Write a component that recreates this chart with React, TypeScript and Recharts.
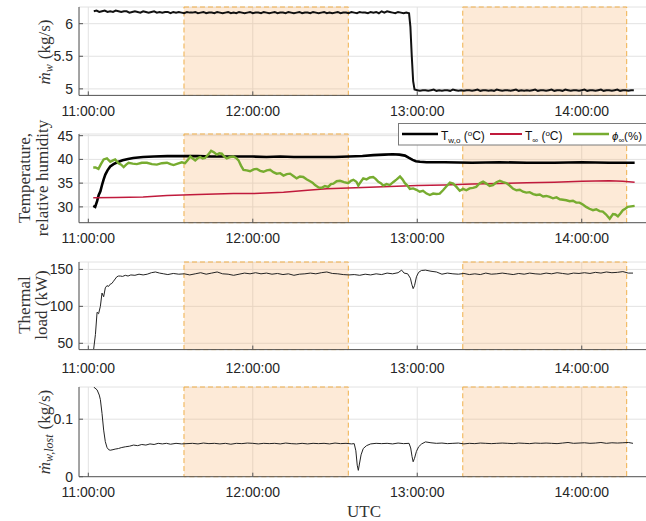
import React from 'react';
import { LineChart, Line, XAxis, YAxis, CartesianGrid, ReferenceArea } from 'recharts';

// ---- shared axis data (minutes after 11:00:00 UTC) ----
const xDomain: [number, number] = [-3.39, 203.8];
const xTicks = [0, 60, 120, 180];
const xTickLabels = ['11:00:00', '12:00:00', '13:00:00', '14:00:00'];
const shadedStart = [34.9, 136.6];
const shadedEnd = [94.85, 196.4];

// ---- panel 1: water mass flow (kg/s) ----
const flowTime = [
  2, 3, 4, 5, 6, 7, 8, 9, 10, 11,
  12, 13, 14, 15, 16, 17, 18, 19, 20, 21,
  22, 23, 24, 25, 26, 27, 28, 29, 30, 31,
  32, 33, 34, 35, 36, 37, 38, 39, 40, 41,
  42, 43, 44, 45, 46, 47, 48, 49, 50, 51,
  52, 53, 54, 55, 56, 57, 58, 59, 60, 61,
  62, 63, 64, 65, 66, 67, 68, 69, 70, 71,
  72, 73, 74, 75, 76, 77, 78, 79, 80, 81,
  82, 83, 84, 85, 86, 87, 88, 89, 90, 91,
  92, 93, 94, 95, 96, 97, 98, 99, 100, 101,
  102, 103, 104, 105, 106, 107, 108, 109, 110, 111,
  112, 113, 114, 115, 116, 117,
  117.5, 118, 118.5, 119,
  120, 121, 122, 123, 124, 125, 126, 127, 128, 129,
  130, 131, 132, 133, 134, 135, 136, 137, 138, 139,
  140, 141, 142, 143, 144, 145, 146, 147, 148, 149,
  150, 151, 152, 153, 154, 155, 156, 157, 158, 159,
  160, 161, 162, 163, 164, 165, 166, 167, 168, 169,
  170, 171, 172, 173, 174, 175, 176, 177, 178, 179,
  180, 181, 182, 183, 184, 185, 186, 187, 188, 189,
  190, 191, 192, 193, 194, 195, 196, 197, 198, 199,
];
const flowValues = [
  6.19, 6.20, 6.18, 6.19, 6.20, 6.18, 6.19, 6.18, 6.20, 6.19,
  6.18, 6.19, 6.19, 6.17, 6.18, 6.19, 6.18, 6.17, 6.19, 6.18,
  6.17, 6.18, 6.19, 6.17, 6.18, 6.17, 6.18, 6.18, 6.16, 6.18,
  6.17, 6.18, 6.17, 6.16, 6.18, 6.17, 6.17, 6.18, 6.16, 6.17,
  6.18, 6.16, 6.17, 6.17, 6.16, 6.18, 6.17, 6.16, 6.17, 6.18,
  6.16, 6.17, 6.16, 6.18, 6.17, 6.16, 6.17, 6.18, 6.16, 6.17,
  6.17, 6.16, 6.18, 6.17, 6.16, 6.17, 6.18, 6.16, 6.17, 6.17,
  6.16, 6.18, 6.17, 6.16, 6.17, 6.18, 6.16, 6.17, 6.17, 6.16,
  6.18, 6.17, 6.16, 6.17, 6.18, 6.16, 6.17, 6.16, 6.17, 6.18,
  6.16, 6.17, 6.17, 6.16, 6.18, 6.17, 6.16, 6.18, 6.17, 6.17,
  6.16, 6.18, 6.17, 6.18, 6.16, 6.19, 6.17, 6.19, 6.18, 6.17,
  6.16, 6.18, 6.17, 6.16, 6.17, 6.16,
  5.95, 5.50, 5.12, 4.99,
  4.98, 4.97, 4.98, 4.98, 4.97, 4.98, 4.99, 4.97, 4.98, 4.97,
  4.98, 4.98, 4.97, 4.99, 4.98, 4.97, 4.98, 4.97, 4.98, 4.98,
  4.97, 4.98, 4.99, 4.97, 4.98, 4.98, 4.97, 4.98, 4.97, 4.99,
  4.98, 4.97, 4.98, 4.98, 4.97, 4.98, 4.99, 4.97, 4.98, 4.97,
  4.98, 4.97, 4.98, 4.99, 4.97, 4.98, 4.98, 4.97, 4.98, 4.99,
  4.97, 4.98, 4.98, 4.97, 4.99, 4.98, 4.97, 4.98, 4.98, 4.97,
  4.98, 4.99, 4.97, 4.98, 4.98, 4.97, 4.98, 4.99, 4.97, 4.98,
  4.98, 4.97, 4.98, 4.99, 4.97, 4.98, 4.98, 4.97, 4.98, 4.98,
];

// ---- panel 2: temperatures (°C) and relative humidity (%) ----
const twoTime = [
  1.8, 2.5, 3.2, 3.8, 4.4, 5.0, 5.6, 6.2, 7.0, 8.0,
  9.2, 10.6, 12.5, 14.5, 16.4, 20, 24, 28.8, 35, 40,
  45, 50, 55, 60, 65, 70, 75, 80, 85, 90,
  95, 100, 104, 108, 111, 113.5, 115.5, 117, 118.3, 119.5,
  121, 123.4, 130, 140, 150, 160, 170, 180, 190, 199.3,
];
const twoValues = [
  30.2, 30.0, 31.2, 32.5, 33.3, 34.6, 35.8, 36.8, 37.7, 38.5,
  39.0, 39.4, 39.8, 40.1, 40.3, 40.5, 40.6, 40.7, 40.7, 40.7,
  40.6, 40.6, 40.6, 40.6, 40.5, 40.6, 40.5, 40.5, 40.5, 40.5,
  40.6, 40.7, 40.9, 41.0, 41.1, 41.0, 40.8, 40.3, 39.9, 39.6,
  39.5, 39.4, 39.4, 39.3, 39.4, 39.3, 39.3, 39.4, 39.3, 39.3,
];
const airTime = [
  1.8, 10, 20, 28.7, 40, 52.9, 60, 71.2, 80, 87,
  100, 110, 120, 130, 140, 150, 160, 170, 180, 190, 195, 199.3,
];
const airValues = [
  31.9, 32.0, 32.1, 32.4, 32.6, 32.8, 32.8, 33.1, 33.5, 33.8,
  34.1, 34.3, 34.5, 34.6, 34.8, 34.9, 35.1, 35.2, 35.4, 35.5, 35.4, 35.2,
];
const rhTime = [
  1.8, 2.6, 3.7, 4.6, 5.6, 6.8, 8.0, 9.0, 9.8, 11.0,
  12.0, 12.9, 13.8, 14.7, 16.2, 17.7, 19.5, 21.4, 23.2, 25.0,
  26.8, 28.7, 30.0, 31.1, 32.6, 34.1, 35.3, 36.2, 37.2, 38.1,
  39.0, 40.0, 40.8, 41.7, 42.6, 43.7, 44.8, 45.8, 46.9, 47.8,
  48.7, 49.6, 50.5, 51.7, 52.9, 53.9, 54.8, 55.7, 56.6, 57.8,
  59.0, 60.3, 61.5, 62.7, 63.9, 65.1, 66.3, 67.5, 68.7, 70.0,
  71.2, 72.4, 73.6, 74.8, 76.0, 77.2, 78.4, 79.6, 80.9, 81.8,
  82.7, 84.0, 85.1, 86.3, 87.5, 88.5, 89.4, 90.6, 91.8, 93.3,
  94.8, 95.8, 96.7, 97.8, 98.5, 99.3, 100.3, 101.5, 102.7, 103.9,
  104.8, 105.8, 106.7, 107.6, 108.8, 110.0, 111.2, 112.5, 113.7, 114.6,
  115.5, 116.4, 117.3, 118.5, 119.7, 120.9, 122.1, 123.4, 124.6, 125.8,
  127.0, 128.2, 129.4, 130.6, 131.9, 133.1, 134.3, 135.5, 136.7, 137.9,
  139.1, 140.3, 141.5, 142.8, 144.0, 145.2, 146.4, 147.6, 148.9, 150.1,
  151.3, 152.5, 153.7, 155.0, 156.2, 157.4, 158.6, 159.8, 161.0, 162.3,
  163.5, 164.7, 165.9, 167.1, 168.3, 169.5, 170.8, 172.0, 173.2, 174.4,
  175.6, 176.8, 178.0, 179.2, 180.4, 181.6, 182.8, 184.1, 185.3, 186.5,
  187.7, 188.9, 190.2, 191.4, 192.3, 193.2, 194.1, 195.0, 195.9, 196.8,
  198.0, 199.3,
];
const rhValues = [
  38.3, 38.3, 38.0, 39.0, 40.0, 40.2, 39.5, 39.8, 40.0, 39.2,
  38.9, 38.4, 38.9, 39.3, 39.1, 39.0, 39.3, 39.3, 39.0, 38.9,
  39.2, 39.3, 39.0, 38.8, 39.1, 39.4, 39.2, 39.8, 40.6, 40.2,
  39.8, 40.3, 40.5, 40.2, 40.3, 41.0, 41.8, 41.5, 41.0, 41.3,
  41.2, 40.6, 40.2, 40.5, 40.6, 40.3, 39.8, 38.7, 37.8, 37.7,
  37.5, 37.9, 38.0, 37.6, 37.4, 37.7, 37.8, 37.3, 37.0, 37.1,
  36.6, 36.9, 37.0, 36.5, 36.0, 36.4, 36.3, 35.8, 35.4, 35.1,
  34.6, 34.1, 34.0, 34.4, 34.2, 34.8, 34.9, 35.4, 35.5, 35.2,
  35.0, 35.5, 35.7, 35.3, 34.5, 35.2, 36.0, 35.8, 36.2, 36.3,
  35.9, 35.3, 35.0, 34.5, 34.8, 34.6, 35.2, 35.8, 36.4, 35.8,
  35.0, 34.5, 33.8, 33.9, 33.6, 33.2, 33.4, 32.8, 32.5, 32.8,
  32.7, 32.8, 33.5, 34.3, 35.1, 34.9, 34.2, 33.4, 33.8, 33.5,
  33.9, 34.0, 34.2, 35.0, 35.3, 34.9, 34.4, 34.6, 35.2, 35.5,
  35.2, 35.0, 34.5, 33.8, 33.5, 33.6, 33.2, 33.0, 33.1, 32.7,
  32.5, 32.6, 32.2, 32.3, 32.1, 31.8, 32.0, 31.6, 31.5, 31.4,
  31.2, 31.3, 30.9, 30.9, 30.5, 30.0, 29.6, 29.3, 29.5, 29.1,
  29.0, 28.4, 27.5, 28.5, 28.4, 28.0, 28.6, 29.3, 29.6, 30.0,
  30.1, 30.2,
];

// ---- panel 3: thermal load (kW) ----
const loadTime = [
  1.95, 2.6, 3.2, 3.75, 4.4, 5.0, 5.6, 6.2, 6.8, 7.4,
  8.0, 8.6, 9.2, 9.8, 10.4, 11.0, 11.7, 12.5, 13.5, 14.5,
  15.5, 17, 18.5, 20, 21.5, 23, 24.5, 26, 27.5, 29,
  31, 33, 35, 37, 39, 41, 43, 45, 47, 49,
  51, 53, 55, 57, 59, 61, 63, 65, 67, 69,
  71, 73, 75, 77, 79, 81, 83, 85, 87, 89,
  91, 93, 95, 97, 99, 101, 103, 105, 107, 109,
  111, 113, 114.3, 115.2, 116.5, 117.5, 118, 118.5, 119, 119.7,
  120.5, 121.5, 123, 125, 127, 129, 131, 133, 135, 137,
  139, 141, 143, 145, 147, 149, 151, 153, 155, 157,
  159, 161, 163, 165, 167, 169, 171, 173, 175, 177,
  179, 181, 183, 185, 187, 189, 191, 193, 195, 197, 198.7,
];
const loadValues = [
  42, 62, 92, 90, 100, 118, 113, 125, 128, 127,
  130, 131, 134, 137, 140, 141, 141, 140.5, 142, 141,
  142.5, 142, 143.5, 142.5, 143.5, 145.5, 146.5, 145, 144, 143,
  144.5, 143.5, 144, 142.5, 144, 145.5, 143.5, 145, 146.5, 144,
  143.5, 142, 143.5, 145, 144, 145.5, 144, 145, 143.5, 144.5,
  143, 144, 142, 143.5, 144, 145, 144, 145.5, 146.5, 144.5,
  144, 143, 142.5, 143, 142, 143.5, 142.5, 144, 143, 145,
  144, 145.5, 149, 145, 144, 138, 130, 124, 128, 140,
  146, 148.5, 149, 147.5, 146.5, 143.5, 145, 144, 143.5, 144.5,
  143, 144, 143, 145, 143.5, 144, 145, 144, 143, 144.5,
  143.5, 145, 144, 143.5, 145, 144, 145.5, 144.5, 143.5, 145,
  144.5, 145.5, 144.5, 146, 145, 146.5, 145.5, 146, 147, 145, 145,
];

// ---- panel 4: lost water mass flow (kg/s) ----
const lostTime = [
  1.95, 3.2, 4.0, 4.4, 5.0, 5.6, 6.2, 6.8, 7.4, 8.0,
  9.0, 9.8, 11, 12, 13.5, 15, 16.5, 18, 19.5, 21,
  22.5, 24, 25.5, 27, 28.5, 30, 32, 34, 36, 38,
  40, 42, 44, 46, 48, 50, 52, 54, 56, 58,
  60, 62, 64, 66, 68, 70, 72, 74, 76, 78,
  80, 82, 84, 86, 88, 90, 92, 94, 96, 97.0,
  97.6, 98.1, 98.5, 98.9, 99.5, 100.3, 101.5, 103, 105, 107,
  109, 111, 113, 115, 117.0, 117.6, 118.1, 118.5, 119, 119.7,
  120.5, 121.6, 123, 125, 127, 129, 131, 133, 135, 137,
  139, 141, 143, 145, 147, 149, 151, 153, 155, 157,
  159, 161, 163, 165, 167, 169, 171, 173, 175, 177,
  179, 181, 183, 185, 187, 189, 191, 193, 195, 197, 198.7,
];
const lostValues = [
  0.156, 0.151, 0.142, 0.134, 0.11, 0.081, 0.061, 0.051, 0.047, 0.046,
  0.047, 0.048, 0.049, 0.0505, 0.052, 0.053, 0.055, 0.054, 0.056, 0.055,
  0.057, 0.056, 0.058, 0.057, 0.058, 0.0565, 0.058, 0.057, 0.0575, 0.058,
  0.057, 0.0585, 0.0575, 0.058, 0.057, 0.058, 0.0565, 0.058, 0.0575, 0.0585,
  0.058, 0.057, 0.058, 0.0575, 0.058, 0.057, 0.0585, 0.0575, 0.057, 0.058,
  0.057, 0.058, 0.0575, 0.058, 0.057, 0.0585, 0.0575, 0.058, 0.057, 0.0575,
  0.045, 0.02, 0.011, 0.022, 0.038, 0.049, 0.054, 0.057, 0.058, 0.0575,
  0.058, 0.057, 0.0585, 0.0575, 0.058, 0.05, 0.035, 0.026, 0.032, 0.044,
  0.052, 0.057, 0.0605, 0.059, 0.058, 0.0585, 0.0575, 0.058, 0.0585, 0.057,
  0.058, 0.0575, 0.0585, 0.058, 0.0575, 0.058, 0.0585, 0.058, 0.0575, 0.0585,
  0.058, 0.0575, 0.0585, 0.058, 0.0585, 0.058, 0.0575, 0.0585, 0.0595, 0.058,
  0.0585, 0.059, 0.058, 0.0585, 0.0595, 0.058, 0.059, 0.0585, 0.059, 0.0595, 0.058,
];

const pairs = (ts: number[], vs: number[]) => ts.map((t, i) => ({ t, v: vs[i] }));
const flowData = pairs(flowTime, flowValues);
const twoData = pairs(twoTime, twoValues);
const airData = pairs(airTime, airValues);
const rhData = pairs(rhTime, rhValues);
const loadData = pairs(loadTime, loadValues);
const lostData = pairs(lostTime, lostValues);

const fmtX = (v: number) => {
  const i = xTicks.indexOf(v);
  return i >= 0 ? xTickLabels[i] : '';
};

const FRAME = '#555555';
const TXT = '#262626';
const tickFont = { fill: TXT, fontSize: 14, fontFamily: 'Liberation Sans, Arial, sans-serif' };
const MT = 10;

type PanelProps = {
  top: number;
  plotH: number;
  yDomain: [number, number];
  yTicks: number[];
  xTickMargin: number;
  children?: React.ReactNode;
};

function Panel({ top, plotH, yDomain, yTicks, xTickMargin, children }: PanelProps) {
  return (
    <div style={{ position: 'absolute', left: 0, top: top - MT }}>
      <LineChart width={660} height={plotH + 30 + MT} margin={{ top: MT, right: 13, bottom: 0, left: 0 }}>
        <CartesianGrid stroke="#e2e2e2" strokeWidth={1} />
        {shadedStart.map((s, i) => (
          <ReferenceArea
            key={'r' + i}
            x1={s}
            x2={shadedEnd[i]}
            fill="#f7b06a"
            fillOpacity={0.27}
            stroke="#f0b04a"
            strokeWidth={1}
            strokeDasharray="5 3"
            ifOverflow="visible"
          />
        ))}
        <XAxis
          type="number"
          dataKey="t"
          domain={xDomain}
          ticks={xTicks}
          interval={0}
          tickFormatter={fmtX}
          allowDataOverflow
          height={30}
          tickSize={-4}
          tickMargin={xTickMargin}
          stroke={FRAME}
          tick={tickFont}
        />
        <XAxis
          xAxisId="top"
          orientation="top"
          type="number"
          domain={xDomain}
          ticks={xTicks}
          interval={0}
          allowDataOverflow
          height={0}
          tickSize={-4}
          tick={false}
          stroke={FRAME}
        />
        <YAxis
          type="number"
          domain={yDomain}
          ticks={yTicks}
          interval={0}
          allowDataOverflow
          width={79}
          tickSize={-4}
          tickMargin={10}
          stroke={FRAME}
          tick={tickFont}
        />
        <YAxis
          yAxisId="right"
          orientation="right"
          type="number"
          domain={yDomain}
          ticks={yTicks}
          interval={0}
          allowDataOverflow
          width={0}
          tickSize={-4}
          tick={false}
          stroke={FRAME}
        />
        {children}
      </LineChart>
    </div>
  );
}

const serif = 'Liberation Serif, Times New Roman, serif';
const sans = 'Liberation Sans, Arial, sans-serif';

export default function App() {
  return (
    <div
      style={{
        position: 'absolute',
        left: 0,
        top: 0,
        width: 646,
        height: 521,
        overflow: 'hidden',
        background: '#ffffff',
      }}
    >
      <Panel top={7.3} plotH={88.4} yDomain={[4.9, 6.256]} yTicks={[5, 5.5, 6]} xTickMargin={14.8}>
        <Line data={flowData} dataKey="v" stroke="#111111" strokeWidth={2} dot={false} isAnimationActive={false} />
      </Panel>
      <Panel top={134} plotH={88.7} yDomain={[26.67, 45.35]} yTicks={[30, 35, 40, 45]} xTickMargin={14.3}>
        <Line data={twoData} dataKey="v" stroke="#000000" strokeWidth={2.6} dot={false} isAnimationActive={false} />
        <Line data={airData} dataKey="v" stroke="#c01a3c" strokeWidth={1.5} dot={false} isAnimationActive={false} />
        <Line data={rhData} dataKey="v" stroke="#77ac30" strokeWidth={2.4} dot={false} isAnimationActive={false} />
      </Panel>
      <Panel top={261.7} plotH={87.6} yDomain={[41.5, 160]} yTicks={[50, 100, 150]} xTickMargin={17}>
        <Line data={loadData} dataKey="v" stroke="#222222" strokeWidth={1} dot={false} isAnimationActive={false} />
      </Panel>
      <Panel top={387} plotH={89.7} yDomain={[0, 0.156]} yTicks={[0, 0.1]} xTickMargin={14.8}>
        <Line data={lostData} dataKey="v" stroke="#222222" strokeWidth={1} dot={false} isAnimationActive={false} />
      </Panel>

      <svg
        width={646}
        height={521}
        style={{ position: 'absolute', left: 0, top: 0, pointerEvents: 'none' }}
      >
        <text transform="translate(49.5,52) rotate(-90)" textAnchor="middle" fontFamily={serif} fontSize={17} fill="#333">
          <tspan fontStyle="italic">ṁ</tspan>
          <tspan fontStyle="italic" fontSize={12} dy={3}>w</tspan>
          <tspan dy={-3} dx={5}>(kg/s)</tspan>
        </text>
        <text transform="translate(30,178) rotate(-90)" textAnchor="middle" fontFamily={serif} fontSize={17} fill="#333">
          Temperature,
        </text>
        <text transform="translate(48,178) rotate(-90)" textAnchor="middle" fontFamily={serif} fontSize={17} fill="#333">
          relative humidity
        </text>
        <text transform="translate(30,305) rotate(-90)" textAnchor="middle" fontFamily={serif} fontSize={17} fill="#333">
          Thermal
        </text>
        <text transform="translate(47,305) rotate(-90)" textAnchor="middle" fontFamily={serif} fontSize={17} fill="#333">
          load (kW)
        </text>
        <text transform="translate(49.5,432) rotate(-90)" textAnchor="middle" fontFamily={serif} fontSize={17} fill="#333">
          <tspan fontStyle="italic">ṁ</tspan>
          <tspan fontStyle="italic" fontSize={12} dy={3}>w,lost</tspan>
          <tspan dy={-3} dx={5}>(kg/s)</tspan>
        </text>
        <text x={364} y={516.5} textAnchor="middle" fontFamily={serif} fontSize={17} fill="#333">
          UTC
        </text>

        <rect x={398.5} y={123.5} width={260} height={21.5} fill="#ffffff" stroke="#7a7a7a" strokeWidth={1} />
        <line x1={402} y1={134} x2={438} y2={134} stroke="#000000" strokeWidth={2.6} />
        <text x={441} y={140} fontFamily={sans} fontSize={12} fill="#111">
          T<tspan fontSize={8} dy={3}>w,o</tspan>
          <tspan dy={-3}> (</tspan>
          <tspan fontSize={8} dy={-4.5}>o</tspan>
          <tspan dy={4.5}>C)</tspan>
        </text>
        <line x1={490} y1={134} x2={522} y2={134} stroke="#c01a3c" strokeWidth={2} />
        <text x={525} y={140} fontFamily={sans} fontSize={12} fill="#111">
          T<tspan fontSize={8} dy={3}>∞</tspan>
          <tspan dy={-3}> (</tspan>
          <tspan fontSize={8} dy={-4.5}>o</tspan>
          <tspan dy={4.5}>C)</tspan>
        </text>
        <line x1={573} y1={134} x2={609} y2={134} stroke="#77ac30" strokeWidth={2.4} />
        <text x={612} y={140} fontFamily={sans} fontSize={11.5} fill="#111">
          <tspan fontStyle="italic">ϕ</tspan>
          <tspan fontSize={8} dy={3}>∞</tspan>
          <tspan dy={-3}>(%)</tspan>
        </text>
      </svg>
    </div>
  );
}
